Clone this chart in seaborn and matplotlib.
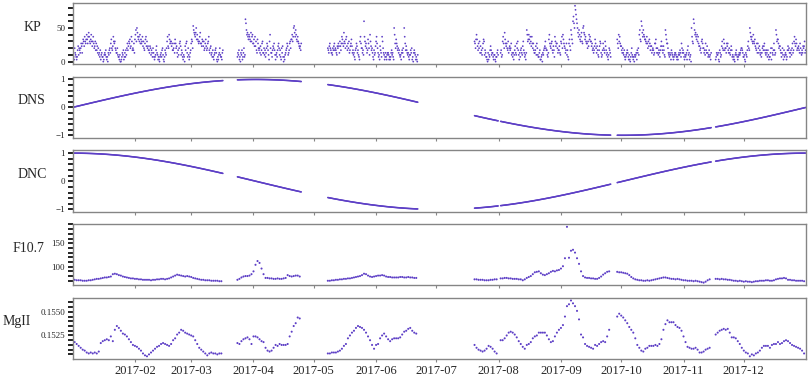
import numpy as np
import pandas as pd
import matplotlib
matplotlib.use("Agg")
import matplotlib.pyplot as plt
import matplotlib.dates as mdates
from matplotlib.ticker import MultipleLocator, FormatStrFormatter
import seaborn as sns

# --- days with data (gaps between the ranges) ---
seg_ranges = [("2017-01-01", "2017-03-16"), ("2017-03-24", "2017-04-24"),
              ("2017-05-08", "2017-06-21"), ("2017-07-20", "2017-07-31"),
              ("2017-08-02", "2017-09-25"), ("2017-09-29", "2017-11-14"),
              ("2017-11-17", "2017-12-31")]

# --- KP (x10), four readings per day, one row = 5 days ---
kp = [
    # Jan 1 - Mar 16
    13,17,7,3, 20,13,10,7, 3,7,17,23, 10,20,17,13, 20,27,23,13,
    27,33,30,23, 37,30,27,33, 40,33,27,37, 43,37,30,27, 33,40,30,23,
    30,37,27,20, 23,30,17,27, 17,23,13,20, 10,13,7,17, 3,10,13,7,
    7,0,3,10, 13,10,17,7, 3,7,0,13, 10,17,20,13, 27,33,20,17,
    23,37,30,27, 30,20,17,13, 13,20,10,7, 7,3,10,0, 0,3,7,13,
    10,17,3,7, 13,7,17,10, 20,27,17,23, 30,27,33,20, 23,37,30,17,
    20,17,27,13, 33,40,47,30, 50,43,37,33, 37,30,40,27, 33,27,30,37,
    23,30,20,17, 27,33,37,23, 30,20,23,17, 17,13,23,20, 10,17,13,7,
    20,13,7,3, 7,10,17,23, 13,10,3,7, 3,0,7,10, 13,7,17,20,
    10,3,0,7, 17,13,10,20, 30,37,23,20, 40,33,27,30, 30,23,27,17,
    17,20,27,13, 33,27,20,23, 13,7,17,10, 20,27,30,23, 10,17,13,7,
    3,10,7,0, 23,17,27,30, 13,7,20,10, 3,7,13,17, 27,33,30,20,
    53,47,43,40, 37,43,50,33, 40,33,30,27, 30,37,43,27, 27,23,33,30,
    23,30,17,20, 27,33,23,17, 20,27,30,37, 17,13,20,23, 10,13,7,17,
    7,3,10,13, 17,20,13,3, 0,7,3,10, 13,20,10,7, 7,3,13,17,
    # Mar 24 - Apr 24
    7,13,10,17, 3,7,0,13, 10,17,3,7, 13,20,7,10, 63,57,47,40,
    43,37,33,40, 37,33,30,43, 30,37,40,27, 27,33,23,37, 23,30,17,13,
    33,27,20,17, 20,13,23,10, 17,27,30,13, 13,20,10,17, 7,13,20,27,
    23,17,10,3, 30,40,20,13, 13,7,17,23, 20,27,17,10, 3,10,13,7,
    17,23,27,20, 10,17,7,3, 20,13,23,7, 0,7,3,10, 13,17,20,27,
    23,10,13,17, 27,30,20,33, 33,40,30,37, 50,53,43,37, 47,40,33,30,
    37,30,27,23, 20,23,17,27,
    # May 8 - Jun 21
    20,17,13,23, 27,20,17,13, 13,10,20,17, 23,27,17,20, 17,13,10,23,
    20,27,23,13, 30,23,17,27, 37,33,27,23, 43,30,27,20, 33,37,23,17,
    27,20,30,13, 17,23,27,33, 23,13,17,10, 13,7,3,17, 20,27,23,13,
    17,10,7,3, 30,37,27,20, 20,13,17,10, 60,37,30,23, 27,20,13,17,
    33,27,20,10, 40,30,23,17, 20,13,7,3, 17,10,13,23, 30,37,27,20,
    13,7,10,3, 23,17,13,7, 37,30,20,13, 10,3,7,13, 7,3,10,13,
    13,10,3,7, 3,7,13,17, 10,13,7,3, 50,40,27,20, 33,27,23,17,
    20,13,17,10, 7,10,3,13, 17,13,20,7, 50,37,27,17, 23,17,13,10,
    13,7,3,10, 10,17,13,20, 3,7,0,13, 17,13,10,3, 7,3,0,10,
    # Jul 20 - Jul 31
    30,27,20,33, 40,33,23,17, 27,20,30,13, 23,13,17,10, 20,27,33,30,
    10,17,13,7, 7,3,0,13, 3,10,7,17, 23,17,10,13, 13,7,3,10,
    10,3,0,7, 7,13,17,10,
    # Aug 2 - Sep 25
    13,17,7,10, 30,37,27,20, 43,33,27,23, 27,20,17,30, 13,20,23,17,
    20,27,10,13, 7,13,3,10, 17,23,13,10, 27,20,30,17, 10,3,13,7,
    17,20,13,10, 23,30,17,13, 7,10,3,13, 47,40,30,33, 40,33,27,37,
    30,23,37,27, 20,27,17,13, 13,17,23,10, 27,20,10,7, 7,13,17,3,
    3,7,10,0, 13,10,17,20, 23,30,20,17, 17,10,7,13, 33,40,27,23,
    20,27,30,17, 13,23,17,7, 37,30,23,27, 27,20,13,17, 17,23,13,10,
    30,27,37,20, 40,33,27,23, 20,13,17,27, 10,17,7,3, 27,33,23,17,
    47,40,33,27, 60,67,57,50, 83,77,70,63, 57,50,43,37, 47,40,33,30,
    37,43,30,27, 50,53,43,40, 33,37,30,27, 27,20,30,23, 40,33,37,30,
    30,23,27,17, 20,13,17,23, 33,27,20,13, 23,17,10,7, 17,23,30,27,
    13,7,10,17, 27,20,17,13, 30,23,17,10, 13,7,3,10, 20,17,13,7,
    # Sep 29 - Nov 14
    33,27,20,40, 30,37,27,23, 23,17,13,20, 13,10,17,7, 3,7,10,13,
    17,13,7,3, 10,3,0,7, 13,20,10,7, 3,7,0,10, 7,10,13,3,
    17,13,20,10, 40,47,33,30, 60,53,43,37, 47,40,37,33, 33,30,27,37,
    27,20,30,23, 33,27,17,23, 23,13,17,20, 17,10,13,27, 27,33,20,13,
    20,13,10,17, 13,7,17,23, 30,23,17,13, 23,17,10,7, 47,40,33,27,
    27,20,13,10, 7,13,10,3, 17,13,10,7, 3,7,10,13, 13,10,7,3,
    7,3,10,13, 10,17,13,7, 27,20,13,17, 13,7,3,10, 7,10,13,3,
    17,23,10,13, 3,7,10,0, 50,37,30,27, 63,57,47,40, 43,37,33,40,
    30,37,27,23, 23,17,20,13, 30,33,27,20, 20,13,17,10, 27,17,13,23,
    13,7,10,17, 7,10,3,13,
    # Nov 17 - Dec 31
    3,7,13,10, 10,13,3,0, 17,13,7,10, 23,30,20,17, 33,27,17,20,
    20,13,27,23, 27,17,13,20, 13,10,17,23, 17,7,10,3, 7,3,0,10,
    13,17,10,7, 3,7,10,13, 10,13,17,20, 20,17,13,7, 7,10,3,0,
    13,10,7,17, 23,30,20,17, 50,43,37,33, 37,30,27,40, 30,27,33,23,
    20,17,27,13, 27,20,13,23, 17,10,13,7, 13,20,23,17, 23,27,17,13,
    10,17,13,7, 17,10,3,7, 7,13,20,3, 20,13,10,17, 27,17,10,13,
    47,40,30,33, 33,27,20,23, 23,17,13,7, 13,20,10,3, 17,7,10,13,
    10,3,7,17, 23,17,20,13, 7,13,17,10, 20,27,13,17, 30,37,27,23,
    33,27,17,20, 20,23,17,13, 27,20,13,10, 17,13,23,20, 23,30,13,17,
]

# --- F10.7, daily ---
f107 = [
    72,72,71,71,71,70,70,70,71,71, 72,73,74,74,75,76,77,77,78,79,
    84,85,84,82,81, 79,78,77,76,75,75,74,74, 73,73,72,72,72,72,71,72,72,73,
    73,74,74,73,74,75, 77,79,81,83,82, 81,80,79,80,79,78,76,75,
    74,73,72,72,71,71,71,70,70,70,70,69,69,
    72,74,77,79,80,80,81,84, 90,104,112,108,96,84, 76,76,75,75,74,74,75,74,74,
    75,76,82,80,79, 80,81,81,79,
    70,70,71,71,72,72,73,73, 74,74,75,75,76,77,78, 79,80,82,85,84,81,
    79,78,79,80,81,81,82,81, 79,78,78,77,77,77,77,78, 78,77,77,78,77,77,76,76,
    73,73,72,72,72,71,71,71,72,72,73,73,
    75,75,76,76,75,75,74,74,74,73,73, 71,73,76,78,80,84,88,89,
    90,86,83,82,84,86,89,91,90,92,
    93,96,101,118,185,119,134,136,130,118, 106,90,80,77,76,76,75,75,74,74,
    76,79,83,86,89,90,
    89,88,88,87,86,85,82,78,75,73, 72,71,71,70,70,71,70,71,72,73,
    74,75,76,77,77,76,75,74,74,73, 74,73,72,71,71,70,70,70,69,70,
    69,68,67,66,68,71,73,
    74,74,73,74,73,73,72,72,71,70, 70,69,70,69,68,69,68,68,67,68,
    69,69,70,70,70,71,71,70,70,71, 73,74,75,75,76,75,72,72,71,71,
    70,70,70,70,69,
]

# --- MgII, daily ---
mgii = [
    0.1519,0.1518,0.1516,0.1514,0.1512,0.1510,0.1509,0.1507,0.1506,0.1507,
    0.1506,0.1507,0.1506,0.1508,0.1517,0.1519,0.1520,0.1521,0.1520,0.1524,
    0.1519,0.1531,0.1535,0.1533,0.1530,0.1527,0.1526,0.1524,0.1521,0.1518,
    0.1515,0.1514,0.1513,0.1511,0.1509,0.1506,0.1504,0.1503,0.1505,0.1507,
    0.1509,0.1511,0.1513,0.1514,0.1516,0.1517,0.1516,0.1515,0.1514,0.1516,
    0.1520,0.1522,0.1526,0.1528,0.1531,0.1530,0.1528,0.1527,0.1526,0.1525,
    0.1524,0.1520,0.1516,0.1512,0.1510,0.1508,0.1506,0.1504,0.1506,0.1507,
    0.1506,0.1506,0.1505,0.1506,0.1506,
    0.1517,0.1516,0.1519,0.1521,0.1522,0.1523,0.1521,0.1516,0.1524,0.1524,
    0.1523,0.1521,0.1519,0.1518,0.1512,0.1509,0.1508,0.1509,0.1512,0.1515,
    0.1514,0.1516,0.1515,0.1515,0.1515,0.1516,0.1524,0.1529,0.1535,0.1538,
    0.1544,0.1543,
    0.1506,0.1506,0.1507,0.1507,0.1507,0.1508,0.1509,0.1511,0.1514,0.1516,
    0.1522,0.1525,0.1528,0.1530,0.1533,0.1535,0.1534,0.1533,0.1531,0.1528,
    0.1524,0.1520,0.1515,0.1511,0.1515,0.1516,0.1522,0.1525,0.1527,0.1524,
    0.1521,0.1519,0.1521,0.1522,0.1522,0.1522,0.1523,0.1526,0.1529,0.1530,
    0.1532,0.1533,0.1530,0.1528,0.1527,
    0.1515,0.1512,0.1510,0.1509,0.1508,0.1509,0.1511,0.1514,0.1513,0.1511,
    0.1508,0.1506,
    0.1520,0.1520,0.1522,0.1525,0.1528,0.1529,0.1528,0.1526,0.1523,0.1519,
    0.1516,0.1513,0.1511,0.1515,0.1516,0.1518,0.1522,0.1524,0.1525,0.1528,
    0.1528,0.1528,0.1528,0.1525,0.1521,0.1518,0.1519,0.1524,0.1528,0.1531,
    0.1533,0.1536,0.1545,0.1556,0.1558,0.1562,0.1559,0.1556,0.1551,0.1542,
    0.1526,0.1523,0.1516,0.1514,0.1513,0.1512,0.1511,0.1515,0.1514,0.1516,
    0.1518,0.1519,0.1518,0.1524,0.1531,
    0.1545,0.1548,0.1546,0.1544,0.1541,0.1538,0.1534,0.1531,0.1528,0.1522,
    0.1515,0.1512,0.1509,0.1508,0.1511,0.1512,0.1514,0.1514,0.1514,0.1515,
    0.1514,0.1516,0.1521,0.1531,0.1537,0.1541,0.1539,0.1539,0.1539,0.1536,
    0.1534,0.1533,0.1530,0.1524,0.1518,0.1513,0.1512,0.1511,0.1511,0.1512,
    0.1510,0.1507,0.1507,0.1508,0.1510,0.1511,0.1512,
    0.1526,0.1528,0.1530,0.1531,0.1532,0.1531,0.1532,0.1528,0.1523,0.1523,
    0.1522,0.1519,0.1516,0.1512,0.1509,0.1507,0.1506,0.1503,0.1505,0.1504,
    0.1506,0.1507,0.1509,0.1512,0.1514,0.1514,0.1514,0.1512,0.1515,0.1516,
    0.1516,0.1518,0.1516,0.1517,0.1519,0.1520,0.1519,0.1517,0.1515,0.1514,
    0.1513,0.1512,0.1511,0.1509,0.1506,
]

panel_names = ["KP", "DNS", "DNC", "F10.7", "MgII"]
month_ticks = pd.date_range("2017-02-01", "2017-12-01", freq="MS")

# -----------------------------------------------------------------
days = pd.DatetimeIndex(np.concatenate(
    [pd.date_range(a, b, freq="D").values for a, b in seg_ranges]))

# 4 KP readings per day, 6 h apart
kp_times = pd.DatetimeIndex(np.repeat(days.values, 4)) + \
    pd.to_timedelta(np.tile([0, 6, 12, 18], len(days)), unit="h")

# day-of-year encoding (sin / cos of the date itself)
frac_doy = (kp_times.dayofyear - 1 + kp_times.hour / 24.0).values
dns = np.sin(2 * np.pi * frac_doy / 365.0)
dnc = np.cos(2 * np.pi * frac_doy / 365.0)

frames = {
    "KP": pd.DataFrame({"time": kp_times, "value": kp}),
    "DNS": pd.DataFrame({"time": kp_times, "value": dns}),
    "DNC": pd.DataFrame({"time": kp_times, "value": dnc}),
    "F10.7": pd.DataFrame({"time": days, "value": f107}),
    "MgII": pd.DataFrame({"time": days, "value": mgii}),
}

sns.set_style("ticks")
plt.rcParams["font.family"] = ["Liberation Serif", "DejaVu Serif"]

fig, axes = plt.subplots(5, 1, figsize=(8.09, 3.76), dpi=100, sharex=True)
fig.subplots_adjust(left=0.090, right=0.996, top=0.992, bottom=0.045, hspace=0.2)

dot_color = "#5d3fc6"
dot_size = {"KP": 1.6, "DNS": 1.3, "DNC": 1.3, "F10.7": 2.2, "MgII": 2.2}
major = {"KP": 50, "DNS": 1, "DNC": 1, "F10.7": 50, "MgII": 0.0025}
minor = {"KP": 10, "DNS": 0.2, "DNC": 0.2, "F10.7": 10, "MgII": 0.0005}

for ax, name in zip(axes, panel_names):
    sns.scatterplot(data=frames[name], x="time", y="value", ax=ax,
                    s=dot_size[name], color=dot_color, linewidth=0,
                    edgecolor="none")
    ax.set_ylabel(name, rotation=0, fontsize=10, labelpad=17)
    ax.set_xlabel("")
    ax.yaxis.set_major_locator(MultipleLocator(major[name]))
    ax.yaxis.set_minor_locator(MultipleLocator(minor[name]))
    if name == "MgII":
        ax.yaxis.set_major_formatter(FormatStrFormatter("%.4f"))
    for s in ax.spines.values():
        s.set_color("#858585")
        s.set_linewidth(1.0)
    ax.tick_params(axis="y", which="both", length=3.5, width=1.2,
                   color="black", labelsize=6.5, pad=2)
    ax.tick_params(axis="x", which="major", length=2.5, width=0.8,
                   color="#858585", labelsize=9, pad=1.5)

axes[-1].set_xlim(pd.Timestamp("2017-01-01 02:00"), pd.Timestamp("2017-12-31 20:00"))
axes[-1].set_xticks(month_ticks)
axes[-1].xaxis.set_major_formatter(mdates.DateFormatter("%Y-%m"))

fig.savefig("out.png", dpi=100)
